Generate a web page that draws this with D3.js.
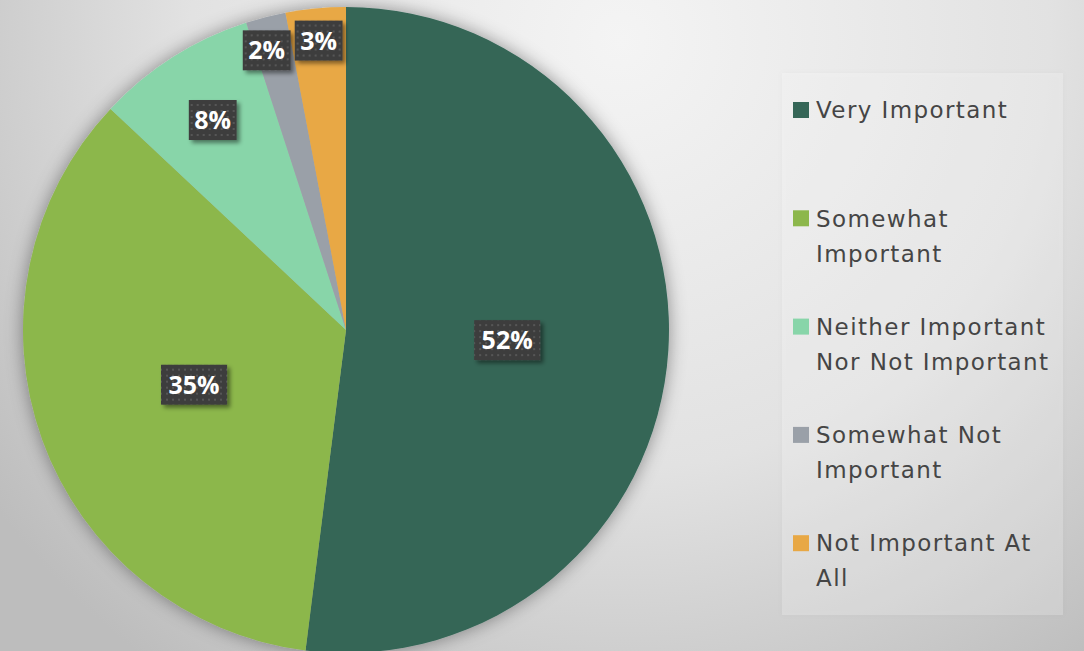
<!DOCTYPE html>
<html>
<head>
<meta charset="utf-8">
<script src="https://cdn.jsdelivr.net/npm/d3@7"></script>
<style>
  body { margin: 0; padding: 0; overflow: hidden; }
  svg { display: block; }
</style>
</head>
<body>
<div id="chart"></div>
<script>
var categories = ["Very Important", "Somewhat Important", "Neither Important Nor Not Important", "Somewhat Not Important", "Not Important At All"],
	values = [52, 35, 8, 2, 3],
	labels = ["52%", "35%", "8%", "2%", "3%"],
	legendLines = [["Very Important"], ["Somewhat", "Important"], ["Neither Important", "Nor Not Important"], ["Somewhat Not", "Important"], ["Not Important At", "All"]],
	colors = ["#356657", "#8cb74b", "#88d5a9", "#9aa0a8", "#e8a845"];

var width = 1084, height = 651,
	cx = 346, cy = 330, radius = 323;

var svg = d3.select("#chart").append("svg")
	.attr("width", width)
	.attr("height", height);

var defs = svg.append("defs");

var bg = defs.append("radialGradient")
	.attr("id", "bg")
	.attr("gradientUnits", "userSpaceOnUse")
	.attr("cx", 620).attr("cy", 40).attr("r", 780);
bg.append("stop").attr("offset", "0%").attr("stop-color", "#f4f4f4");
bg.append("stop").attr("offset", "55%").attr("stop-color", "#e2e2e2");
bg.append("stop").attr("offset", "100%").attr("stop-color", "#bdbdbd");

var shadow = defs.append("filter").attr("id", "pieShadow")
	.attr("x", "-20%").attr("y", "-20%").attr("width", "140%").attr("height", "140%");
shadow.append("feDropShadow").attr("dx", 0).attr("dy", 0)
	.attr("stdDeviation", 9).attr("flood-color", "#000").attr("flood-opacity", 0.4);

var boxShadow = defs.append("filter").attr("id", "boxShadow")
	.attr("x", "-30%").attr("y", "-30%").attr("width", "160%").attr("height", "160%");
boxShadow.append("feDropShadow").attr("dx", 3).attr("dy", 3)
	.attr("stdDeviation", 2).attr("flood-color", "#000").attr("flood-opacity", 0.45);

var legShadow = defs.append("filter").attr("id", "legShadow")
	.attr("x", "-10%").attr("y", "-10%").attr("width", "120%").attr("height", "120%");
legShadow.append("feDropShadow").attr("dx", 0).attr("dy", 0)
	.attr("stdDeviation", 3).attr("flood-color", "#000").attr("flood-opacity", 0.12);

var dots = defs.append("pattern").attr("id", "dots")
	.attr("patternUnits", "userSpaceOnUse")
	.attr("width", 6).attr("height", 6);
dots.append("rect").attr("width", 6).attr("height", 6).attr("fill", "#3d3d3d");
dots.append("rect").attr("x", 2).attr("y", 2).attr("width", 2).attr("height", 2).attr("fill", "#575757");

svg.append("rect")
	.attr("width", width).attr("height", height)
	.attr("fill", "url(#bg)");

// legend panel
var legend = svg.append("g");
legend.append("rect")
	.attr("x", 782).attr("y", 73)
	.attr("width", 281).attr("height", 542)
	.attr("fill", "#ffffff").attr("fill-opacity", 0.2)
	.attr("filter", "url(#legShadow)");

var pie = d3.pie().sort(null).value(function(d) { return d; });
var arcs = pie(values);
var arc = d3.arc().innerRadius(0).outerRadius(radius);

var g = svg.append("g")
	.attr("transform", "translate(" + cx + "," + cy + ")");

g.append("g").attr("filter", "url(#pieShadow)")
	.selectAll("path")
	.data(arcs)
	.enter().append("path")
	.attr("d", arc)
	.attr("fill", function(d, i) { return colors[i]; });

// label radius depends on slice size (like best-fit)
function labelR(d) {
	var p = (d.endAngle - d.startAngle) / (2 * Math.PI);
	if (p >= 0.2) return radius * 0.5;
	if (p >= 0.05) return radius * 0.77;
	return radius * 0.9;
}

var lbl = g.selectAll(".lbl")
	.data(arcs)
	.enter().append("g")
	.attr("class", "lbl")
	.attr("transform", function(d) {
		var a = (d.startAngle + d.endAngle) / 2, r = labelR(d);
		if (d.index == 3) a -= 0.025;
		return "translate(" + (Math.sin(a) * r) + "," + (-Math.cos(a) * r) + ")";
	});

lbl.each(function(d, i) {
	var s = d3.select(this);
	var t = s.append("text")
		.text(labels[i])
		.attr("text-anchor", "middle")
		.attr("dy", "0.36em")
		.style("font-family", "'Open Sans', 'DejaVu Sans', sans-serif")
		.style("font-weight", "bold")
		.style("font-size", "25px")
		.attr("fill", "#ffffff");
	var w = t.node().getComputedTextLength() + (labels[i].length > 2 ? 15 : 11), h = 40;
	s.insert("rect", "text")
		.attr("x", -w / 2).attr("y", -h / 2)
		.attr("width", w).attr("height", h)
		.attr("fill", "url(#dots)")
		.attr("filter", "url(#boxShadow)");
});

// legend items
var item = legend.selectAll(".item")
	.data(categories)
	.enter().append("g")
	.attr("class", "item")
	.attr("transform", function(d, i) { return "translate(793," + (110 + i * 108.3) + ")"; });

item.append("rect")
	.attr("x", 0).attr("y", -8)
	.attr("width", 16).attr("height", 16)
	.attr("fill", function(d, i) { return colors[i]; });

item.append("text")
	.style("font-family", "'DejaVu Sans', sans-serif")
	.style("font-size", "23px")
	.style("letter-spacing", "1.4px")
	.attr("fill", "#454545")
	.each(function(d, i) {
		var t = d3.select(this);
		legendLines[i].forEach(function(line, j) {
			t.append("tspan").attr("x", 23).attr("y", j * 35).attr("dy", "0.36em").text(line);
		});
	});
</script>
</body>
</html>
